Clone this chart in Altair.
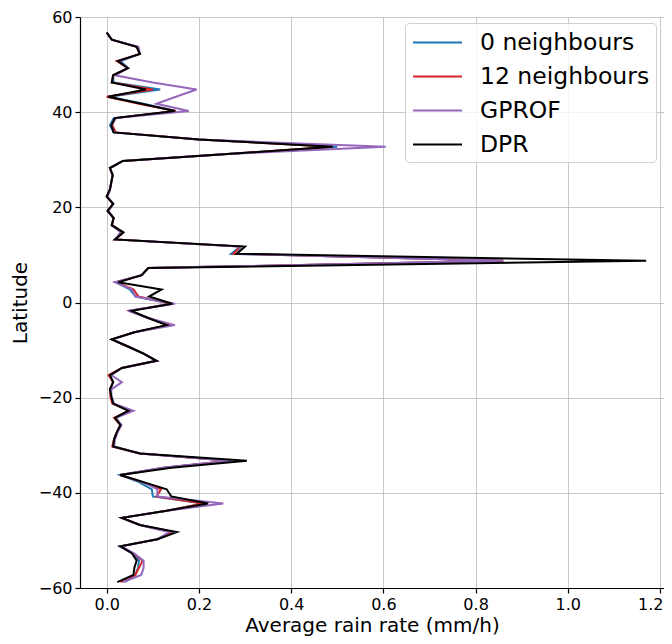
import altair as alt
import pandas as pd

# latitude of each profile point (degrees)
lats = [56.75, 55.25, 53.75, 52.25, 50.75, 49.25, 47.75, 46.25, 44.75, 43.25,
        41.75, 40.25, 38.75, 37.25, 35.75, 34.25, 32.75, 31.25, 29.75, 28.25,
        26.75, 25.25, 23.75, 22.25, 20.75, 19.25, 17.75, 16.25, 14.75, 13.25,
        11.75, 10.25, 8.75, 7.25, 5.75, 4.25, 2.75, 1.25, -0.25, -1.75,
        -3.25, -4.75, -6.25, -7.75, -9.25, -10.75, -12.25, -13.75, -15.25, -16.75,
        -18.25, -19.75, -21.25, -22.75, -24.25, -25.75, -27.25, -28.75, -30.25, -31.75,
        -33.25, -34.75, -36.25, -37.75, -39.25, -40.75, -42.25, -43.75, -45.25, -46.75,
        -48.25, -49.75, -51.25, -52.75, -54.25, -55.75, -57.25, -58.75]

dpr = [0.0, 0.011, 0.065, 0.072, 0.024, 0.046, 0.014, 0.011, 0.085, 0.003,
       0.075, 0.148, 0.018, 0.010, 0.015, 0.200, 0.490, 0.270, 0.035, 0.007,
       0.013, 0.010, 0.007, 0.0, 0.014, 0.002, 0.015, 0.011, 0.036, 0.018,
       0.300, 0.282, 1.170, 0.090, 0.076, 0.025, 0.119, 0.092, 0.142, 0.054,
       0.090, 0.130, 0.060, 0.011, 0.046, 0.080, 0.108, 0.033, 0.007, 0.014,
       0.007, 0.010, 0.014, 0.047, 0.018, 0.030, 0.022, 0.016, 0.014, 0.072,
       0.304, 0.140, 0.029, 0.080, 0.130, 0.140, 0.220, 0.130, 0.033, 0.072,
       0.152, 0.110, 0.030, 0.055, 0.065, 0.060, 0.058, 0.023]

gprof = [0.0, 0.011, 0.069, 0.072, 0.026, 0.046, 0.018, 0.100, 0.195, 0.150,
         0.108, 0.178, 0.020, 0.010, 0.015, 0.200, 0.605, 0.270, 0.035, 0.007,
         0.013, 0.010, 0.007, 0.002, 0.014, 0.004, 0.015, 0.011, 0.030, 0.018,
         0.290, 0.285, 0.860, 0.090, 0.076, 0.018, 0.055, 0.062, 0.148, 0.047,
         0.090, 0.148, 0.060, 0.013, 0.046, 0.080, 0.108, 0.033, 0.010, 0.033,
         0.010, 0.010, 0.016, 0.058, 0.020, 0.032, 0.024, 0.018, 0.016, 0.072,
         0.267, 0.120, 0.029, 0.080, 0.110, 0.110, 0.253, 0.130, 0.033, 0.072,
         0.135, 0.110, 0.032, 0.060, 0.080, 0.080, 0.075, 0.035]

n12 = [0.0, 0.011, 0.065, 0.072, 0.022, 0.046, 0.014, 0.011, 0.100, 0.0,
       0.070, 0.150, 0.018, 0.012, 0.020, 0.200, 0.490, 0.270, 0.035, 0.007,
       0.013, 0.010, 0.007, 0.0, 0.014, 0.002, 0.015, 0.011, 0.036, 0.018,
       0.290, 0.275, 0.860, 0.090, 0.076, 0.020, 0.058, 0.069, 0.140, 0.050,
       0.090, 0.135, 0.060, 0.011, 0.046, 0.080, 0.108, 0.033, 0.004, 0.014,
       0.007, 0.008, 0.012, 0.050, 0.016, 0.030, 0.022, 0.016, 0.012, 0.072,
       0.267, 0.125, 0.029, 0.078, 0.118, 0.108, 0.210, 0.130, 0.033, 0.072,
       0.140, 0.110, 0.030, 0.058, 0.078, 0.070, 0.062, 0.030]

n0 = [0.0, 0.011, 0.065, 0.072, 0.030, 0.046, 0.014, 0.015, 0.116, 0.005,
      0.080, 0.150, 0.015, 0.007, 0.015, 0.200, 0.500, 0.270, 0.035, 0.007,
      0.013, 0.010, 0.007, 0.0, 0.014, 0.002, 0.015, 0.011, 0.036, 0.018,
      0.290, 0.270, 0.860, 0.090, 0.076, 0.020, 0.050, 0.063, 0.140, 0.050,
      0.090, 0.135, 0.060, 0.011, 0.046, 0.080, 0.108, 0.033, 0.007, 0.014,
      0.007, 0.010, 0.014, 0.050, 0.018, 0.030, 0.022, 0.016, 0.014, 0.072,
      0.270, 0.125, 0.029, 0.070, 0.098, 0.100, 0.210, 0.130, 0.033, 0.072,
      0.145, 0.110, 0.028, 0.058, 0.070, 0.068, 0.062, 0.040]

series_names = ["0 neighbours", "12 neighbours", "GPROF", "DPR"]
series_colors = ["#1f77b4", "#d62728", "#9467bd", "#000000"]
series_values = [n0, n12, gprof, dpr]

x_ticks = [0.0, 0.2, 0.4, 0.6, 0.8, 1.0, 1.2]
y_ticks = [-60, -40, -20, 0, 20, 40, 60]

color_scale = alt.Scale(domain=series_names, range=series_colors)

layers = []
for i, (name, vals) in enumerate(zip(series_names, series_values)):
    df = pd.DataFrame({"idx": list(range(len(lats))), "lat": lats, "rate": vals, "series": name})
    layer = alt.Chart(df).mark_line(strokeWidth=2, clip=True).encode(
        x=alt.X("rate:Q",
                scale=alt.Scale(domain=[-0.0579, 1.2086], nice=False, zero=False),
                axis=alt.Axis(values=x_ticks, format=".1f", title="Average rain rate (mm/h)",
                              labelFlush=5, labelFlushOffset=3)),
        y=alt.Y("lat:Q",
                scale=alt.Scale(domain=[-60, 60], nice=False),
                axis=alt.Axis(values=y_ticks, format="d", title="Latitude")),
        order=alt.Order("idx:Q"),
        color=alt.Color("series:N", scale=color_scale,
                        legend=alt.Legend(title=None, orient="none", legendX=325, legendY=6,
                                          symbolType="M-2,0L2,0", symbolSize=600, symbolStrokeWidth=2,
                                          symbolOffset=13,
                                          labelFontSize=23.5, labelFont="DejaVu Sans", labelColor="#000000",
                                          labelOffset=29, rowPadding=9, labelLimit=400,
                                          padding=6, fillColor="rgba(255,255,255,0.8)",
                                          strokeColor="#d0d0d0", cornerRadius=4)),
    )
    layers.append(layer)

chart = alt.layer(*layers).properties(
    width=584, height=571,
    autosize=alt.AutoSizeParams(type="none"),
    padding={"left": 72, "top": 9, "right": 0, "bottom": 48},
).configure_view(stroke=None).configure_axis(
    labelFont="DejaVu Sans", titleFont="DejaVu Sans",
    labelFontSize=16, titleFontSize=20, labelColor="#000000", titleColor="#000000",
    titleFontWeight="normal",
    domainColor="#000000", domainWidth=1.2, tickColor="#000000", tickSize=5, tickWidth=1.2,
    gridColor="#b0b0b0", gridOpacity=0.7, gridWidth=1, labelPadding=3,
).configure_axisY(titlePadding=8).configure_axisX(titlePadding=3)

chart.save("out.html", embed_options={"renderer": "svg", "actions": False})
